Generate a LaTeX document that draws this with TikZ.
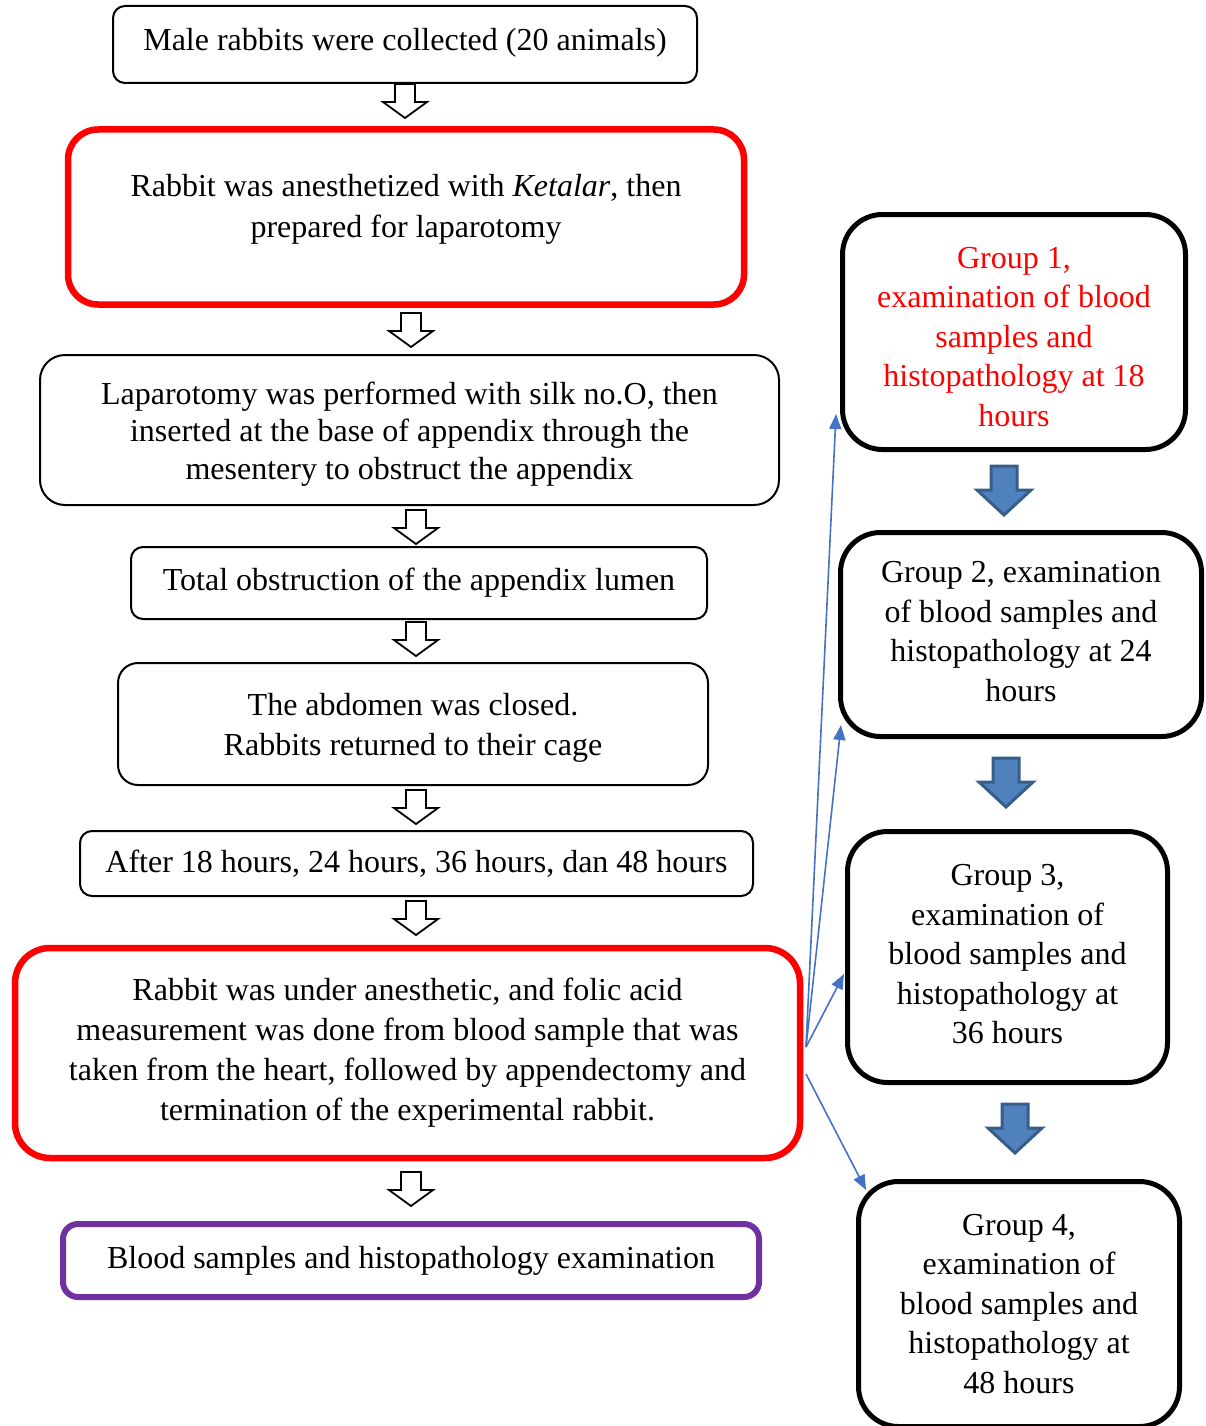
\documentclass[tikz,border=0pt]{standalone}
\usepackage{fontspec}
\setmainfont{Liberation Serif}
\usetikzlibrary{arrows.meta}
\definecolor{redbox}{HTML}{FF0000}
\definecolor{purplebox}{HTML}{7030A0}
\definecolor{bluefill}{HTML}{4F81BD}
\definecolor{blueedge}{HTML}{385D8A}
\definecolor{blueline}{HTML}{4472C4}
\tikzset{
  box/.style={draw=black, line width=2pt, rounded corners=#1, inner sep=0pt, align=center,
    font=\fontsize{32}{40}\selectfont},
  box/.default=12pt,
  redframe/.style={draw=redbox, line width=6.5pt, rounded corners=#1, inner sep=0pt, align=center,
    font=\fontsize{32}{40}\selectfont},
  grp/.style={draw=black, line width=5pt, rounded corners=40pt, inner sep=0pt, align=center,
    font=\fontsize{32}{39.5}\selectfont},
  txt/.style={inner sep=0pt, align=center, font=\fontsize{32}{#1}\selectfont},
  txt/.default=40,
  hollowarrow/.pic={\draw[line width=1.8pt, fill=white, line join=miter]
    (-10,0) -- (10,0) -- (10,18) -- (22,18) -- (0,34) -- (-22,18) -- (-10,18) -- cycle;},
  bluearrow/.pic={\draw[line width=3pt, draw=blueedge, fill=bluefill, line join=miter]
    (-13,0) -- (13,0) -- (13,24) -- (27,24) -- (0,49) -- (-27,24) -- (-13,24) -- cycle;},
  conn/.style={draw=blueline, line width=1.6pt, -{Triangle[length=15pt,width=12pt]}}
}
\begin{document}
\begin{tikzpicture}[x=1pt,y=-1pt]
\useasboundingbox (0,0) rectangle (1206,1426);
% left column
\node[box=12pt, minimum width=584pt, minimum height=77pt] (b1) at (405,44.5) {};
\node[txt] (t1) at (405,43) {Male rabbits were collected (20 animals)};
\node[redframe=30pt, minimum width=676pt, minimum height=175pt] (b2) at (406,217) {};
\node[txt=41] (t2) at (406,209) {Rabbit was anesthetized with \textit{Ketalar}, then\\prepared for laparotomy};
\node[box=25pt, minimum width=739pt, minimum height=150pt] (b3) at (409.5,430) {};
\node[txt=37.5] (t3) at (409.5,434)
  {Laparotomy was performed with silk no.O, then\\inserted at the base of appendix through the\\mesentery to obstruct the appendix};
\node[box=12pt, minimum width=576pt, minimum height=72pt] (b4) at (419,583)
  {Total obstruction of the appendix lumen};
\node[box=20pt, minimum width=590pt, minimum height=122pt] (b5) at (413,724) {};
\node[txt] (t5) at (413,728) {The abdomen was closed.\\Rabbits returned to their cage};
\node[box=12pt, minimum width=673pt, minimum height=65pt] (b6) at (416.5,863.5)
  {After 18 hours, 24 hours, 36 hours, dan 48 hours};
\node[redframe=35pt, minimum width=785pt, minimum height=210pt] (b7) at (407.5,1053)
  {Rabbit was under anesthetic, and folic acid\\measurement was done from blood sample that was\\taken from the heart, followed by appendectomy and\\termination of the experimental rabbit.};
\node[box=15pt, draw=purplebox, line width=6pt, minimum width=696pt, minimum height=73pt] (b8) at (411,1260.5)
  {Blood samples and histopathology examination};
% hollow block arrows
\pic at (405,84) {hollowarrow};
\pic at (411,313) {hollowarrow};
\pic at (416,510) {hollowarrow};
\pic at (416,622) {hollowarrow};
\pic at (416,790) {hollowarrow};
\pic at (416,901) {hollowarrow};
\pic at (411,1172) {hollowarrow};
% right column
\node[grp, minimum width=343pt, minimum height=235pt] (g1) at (1014,332) {};
\node[txt=39.5, text=redbox] (u1) at (1014,337)
  {Group 1,\\examination of blood\\samples and\\histopathology at 18\\hours};
\node[grp, minimum width=361pt, minimum height=204pt] (g2) at (1021,634.5) {};
\node[txt=39.5] (u2) at (1021,631.5)
  {Group 2, examination\\of blood samples and\\histopathology at 24\\hours};
\node[grp, minimum width=320pt, minimum height=251pt] (g3) at (1007.5,957) {};
\node[txt=39.5] (u3) at (1007.5,954.5)
  {Group 3,\\examination of\\blood samples and\\histopathology at\\36 hours};
\node[grp, minimum width=321pt, minimum height=245pt] (g4) at (1019,1304)
  {Group 4,\\examination of\\blood samples and\\histopathology at\\48 hours};
% blue block arrows
\pic at (1004,466) {bluearrow};
\pic at (1006,758) {bluearrow};
\pic at (1015,1104) {bluearrow};
% blue connectors
\coordinate (s1) at (806,1047);
\coordinate (s2) at (806,1074);
\coordinate (e1) at (836,414);
\coordinate (e2) at (841,725);
\coordinate (e3) at (844,974);
\coordinate (e4) at (866,1190);
\draw[conn] (s1) -- (e1);
\draw[conn] (s1) -- (e2);
\draw[conn] (s1) -- (e3);
\draw[conn] (s2) -- (e4);
\end{tikzpicture}
\end{document}
